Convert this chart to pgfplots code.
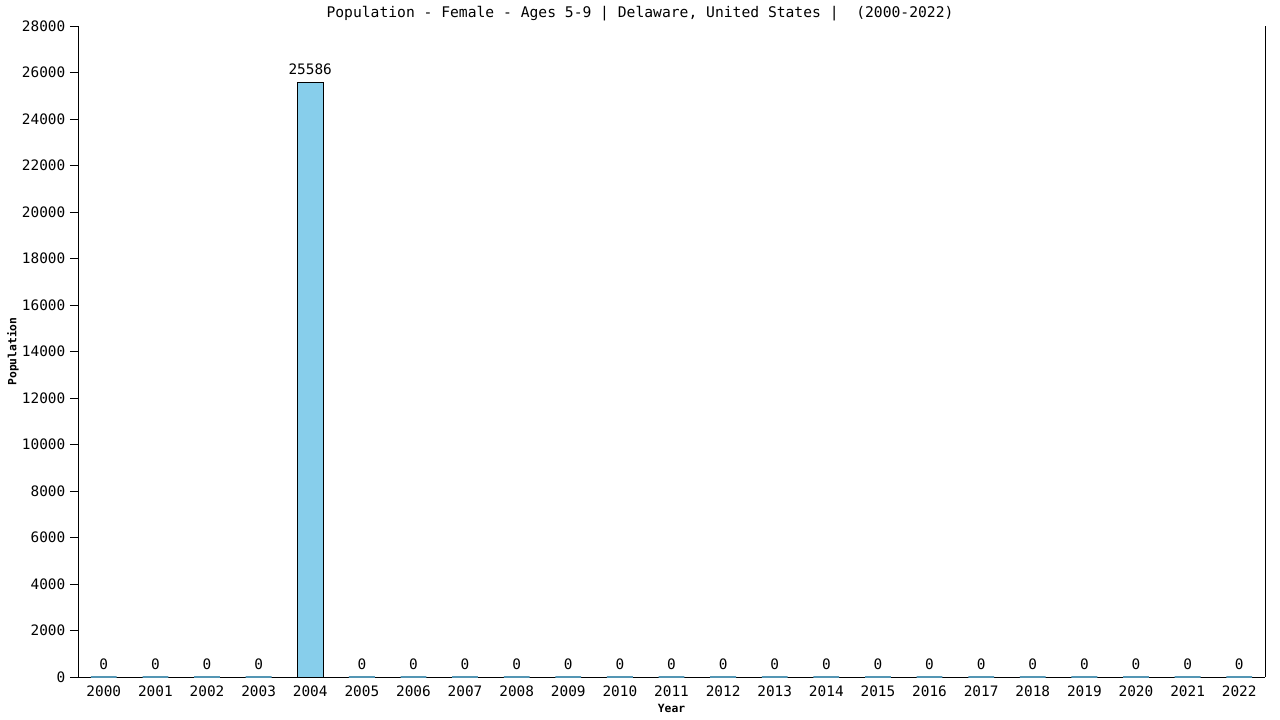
\documentclass[border=0pt]{standalone}
\usepackage{pgfplots}
\pgfplotsset{compat=1.18}
\usepackage{fontspec}
\setmainfont{DejaVu Sans Mono}
\setmonofont{DejaVu Sans Mono}
\definecolor{barfill}{RGB}{135,206,235}
\definecolor{zeroline}{RGB}{84,150,180}
\begin{document}
\begin{tikzpicture}
\useasboundingbox (-58.5pt,-32.25pt) rectangle (901.5pt,507.75pt);
\begin{axis}[
    at={(0,0)}, anchor=south west,
    scale only axis,
    width=890.25pt, height=488.25pt,
    axis lines*=left,
    xmin=-0.5, xmax=22.5,
    ymin=0, ymax=28000,
    ytick={0,2000,...,28000},
    xtick={0,...,22},
    xticklabels={2000,2001,2002,2003,2004,2005,2006,2007,2008,2009,2010,2011,2012,2013,2014,2015,2016,2017,2018,2019,2020,2021,2022},
    x tick style={draw=none},
    y tick style={black, thin},
    tick align=outside,
    major tick length=6pt,
    scaled y ticks=false,
    yticklabel style={/pgf/number format/fixed, /pgf/number format/1000 sep={}},
    xticklabel style={yshift=3pt},
    /pgf/number format/assume math mode=true,
    tick label style={font=\fontsize{10.8}{12}\selectfont},
    xlabel={\fontsize{8.5}{10}\selectfont\bfseries Year},
    ylabel={\fontsize{8.5}{10}\selectfont\bfseries Population},
    xlabel style={yshift=1pt},
    ylabel style={yshift=-4.5pt},
    ybar, bar width=19.35pt, bar shift=0pt,
    nodes near coords,
    nodes near coords style={font=\fontsize{10.8}{12}\selectfont, /pgf/number format/fixed, /pgf/number format/1000 sep={}, inner sep=5pt},
    clip=false,
]
\addplot[fill=barfill, draw=black, thin] coordinates {(4,25586)};
\addplot[fill=barfill, draw=zeroline, line width=1pt] coordinates {
(0,0) (1,0) (2,0) (3,0) (5,0) (6,0) (7,0) (8,0) (9,0) (10,0) (11,0) (12,0)
(13,0) (14,0) (15,0) (16,0) (17,0) (18,0) (19,0) (20,0) (21,0) (22,0)};
\draw[black, thin] (rel axis cs:1,0) -- (rel axis cs:1,1);
\end{axis}
\node[font=\fontsize{11}{13}\selectfont] at (421.5pt,497.3pt) {Population - Female - Ages 5-9 | Delaware, United States |\ \ (2000-2022)};
\end{tikzpicture}
\end{document}
